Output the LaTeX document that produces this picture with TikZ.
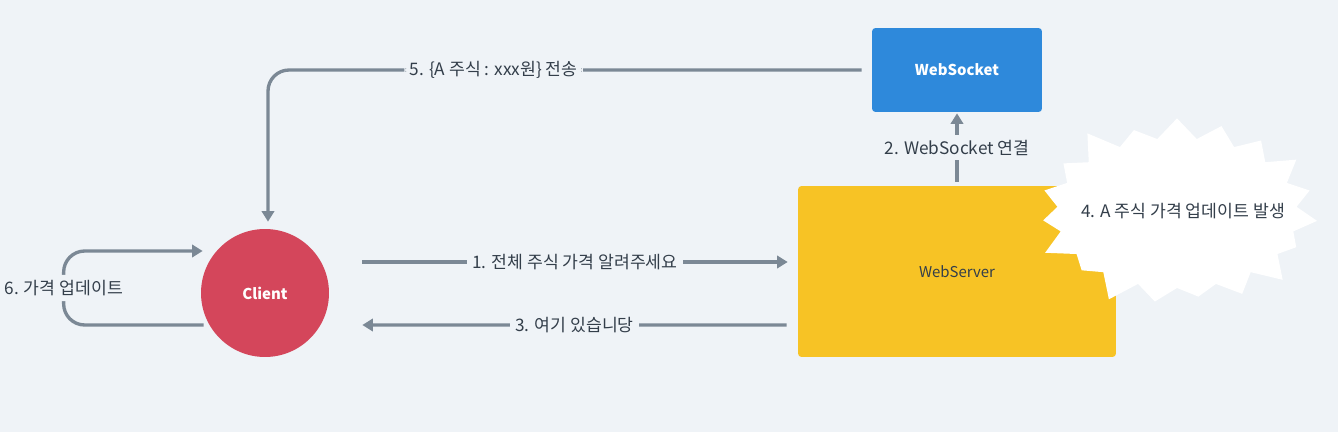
\documentclass[tikz,border=0pt]{standalone}
\usepackage{fontspec}
\setmainfont{Noto Sans CJK KR}
\usepackage{xcolor}
\definecolor{flowbg}{HTML}{EFF3F7}
\definecolor{flowgray}{HTML}{7B8895}
\definecolor{flowblue}{HTML}{2E89DB}
\definecolor{flowyellow}{HTML}{F7C325}
\definecolor{flowred}{HTML}{D4465B}
\definecolor{flowtext}{HTML}{333E4A}
\usepackage{tikz}
\usetikzlibrary{arrows.meta,shapes.symbols}
\tikzset{
  flow box/.style={rectangle, rounded corners=2pt, align=center, font=\fontsize{8.5}{10}\selectfont},
  flow edge/.style={-{Triangle[length=6pt, width=7pt]}, flowgray, line width=1.9pt},
  flow label/.style={fill=flowbg, text=flowtext, inner sep=3pt, font=\fontsize{9.8}{11}\selectfont},
}

\begin{document}
\begin{tikzpicture}[x=0.02cm, y=-0.02cm]
  \fill[flowbg] (0,0) rectangle (1338,432);
  \useasboundingbox (0,0) rectangle (1338,432);
  \node[flow box, fill=flowblue, text=white, font=\fontsize{8.5}{10}\selectfont\bfseries, minimum width=3.4cm, minimum height=1.68cm] (websocket) at (957,70) {WebSocket};
  \node[flow box, fill=flowyellow, text=flowtext, minimum width=6.36cm, minimum height=3.42cm] (server) at (957,271.5) {WebServer};
  \node[circle, fill=flowred, text=white, font=\fontsize{8.5}{10}\selectfont\bfseries, minimum size=2.56cm] (client) at (265,293) {Client};
  \node[starburst, starburst points=19, starburst point height=0.55cm, fill=white, inner sep=0pt, minimum width=5.9cm, minimum height=4.1cm,
    label={[text=flowtext, font=\fontsize{9.8}{11}\selectfont, xshift=0.12cm, yshift=0.04cm]center:4. A 주식 가격 업데이트 발생}] (event) at (1177,213) {};
  \draw[flow edge] ([shift={(33,-31)}]client.east) -- node[flow label] {1. 전체 주식 가격 알려주세요} ([shift={(-10,-9.5)}]server.west);
  \draw[flow edge] ([shift={(0,-4)}]server.north) -- node[flow label] {2. WebSocket 연결} ([shift={(0,1)}]websocket.south);
  \draw[flow edge] ([shift={(-11,53.5)}]server.west) -- node[flow label] {3. 여기 있습니당} ([shift={(33,32)}]client.east);
  \draw[flow edge, rounded corners=12] ([shift={(-10,0)}]websocket.west) -| node[pos=0.31, flow label] {5. \{A 주식 : xxx원\} 전송} ([shift={(3,-7)}]client.north);
  \draw[flow edge, rounded corners=12] ([shift={(3,32)}]client.west) -- ++(-140,0) |- node[pos=0.25, flow label] {6. 가격 업데이트} ([shift={(2,-42)}]client.west);
\end{tikzpicture}
\end{document}
